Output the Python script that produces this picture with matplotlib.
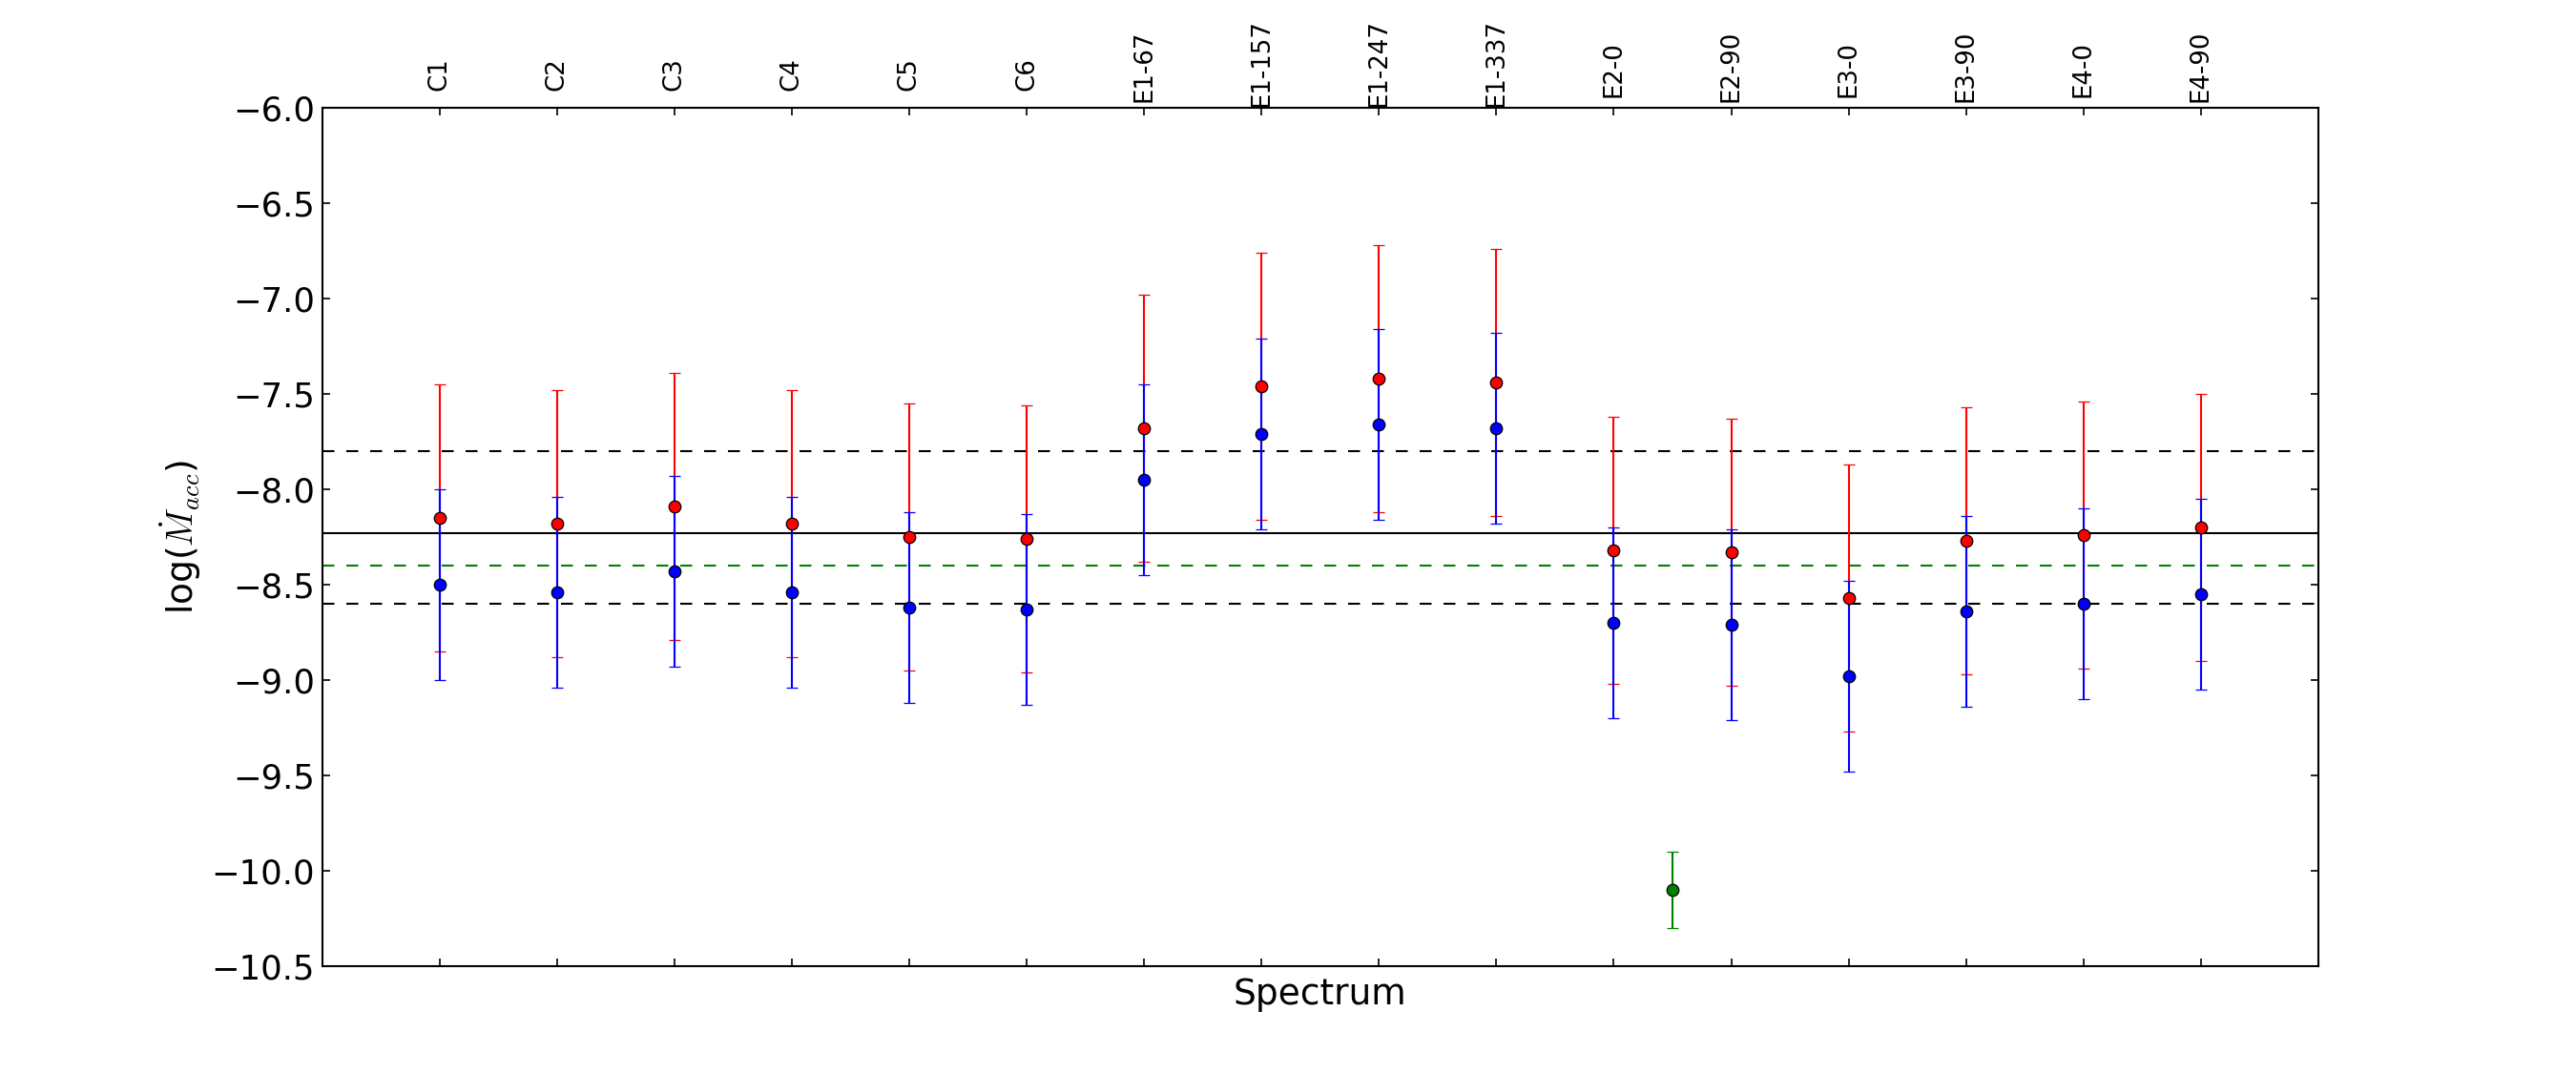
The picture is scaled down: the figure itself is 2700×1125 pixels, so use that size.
import matplotlib
matplotlib.use("Agg")
import matplotlib.pyplot as plt
import matplotlib.transforms as mtransforms
import numpy as np

plt.rcParams['font.family'] = ['DejaVu Sans']
plt.rcParams['mathtext.fontset'] = 'cm'

# spectra names (top axis)
spectra = ['C1', 'C2', 'C3', 'C4', 'C5', 'C6',
           'E1-67', 'E1-157', 'E1-247', 'E1-337',
           'E2-0', 'E2-90', 'E3-0', 'E3-90', 'E4-0', 'E4-90']

# log Macc, red estimates (+/- 0.7)
red_vals = [-8.15, -8.18, -8.09, -8.18, -8.25, -8.26,
            -7.68, -7.46, -7.42, -7.44,
            -8.32, -8.33, -8.57, -8.27, -8.24, -8.20]
red_err = 0.7

# log Macc, blue estimates (+/- 0.5)
blue_vals = [-8.50, -8.54, -8.43, -8.54, -8.62, -8.63,
             -7.95, -7.71, -7.66, -7.68,
             -8.70, -8.71, -8.98, -8.64, -8.60, -8.55]
blue_err = 0.5

# single green measurement between E2-0 and E2-90
green_x = [11.5]
green_val = [-10.1]
green_err = 0.2

# reference levels
mean_level = -8.23
upper_level = -7.80
lower_level = -8.60
green_level = -8.40

x = np.arange(1, len(spectra) + 1)

fig = plt.figure(figsize=(18, 7.5), dpi=150)
ax = fig.add_axes([0.125, 0.1, 0.775, 0.8])

ax.axhline(mean_level, color='k', lw=1.0)
ax.axhline(upper_level, color='k', lw=1.0, ls=(0, (6, 6)))
ax.axhline(lower_level, color='k', lw=1.0, ls=(0, (6, 6)))
ax.axhline(green_level, color='g', lw=1.0, ls=(0, (6, 6)))

ax.errorbar(x, red_vals, yerr=red_err, fmt='o', color='r', mec='k', mew=0.6,
            ms=6, capsize=3, elinewidth=1.0)
ax.errorbar(x, blue_vals, yerr=blue_err, fmt='o', color='b', mec='k', mew=0.6,
            ms=6, capsize=3, elinewidth=1.0)
ax.errorbar(green_x, green_val, yerr=green_err, fmt='o', color='g', mec='k',
            mew=0.6, ms=6, capsize=3, elinewidth=1.0)

ax.set_xlim(0, 17)
ax.set_ylim(-10.5, -6.0)
ax.set_yticks(np.arange(-10.5, -5.99, 0.5))
ax.set_xticks(x)
ax.tick_params(axis='both', direction='in', length=4, width=0.8,
               top=True, bottom=True, left=True, right=True,
               labelbottom=False, labeltop=False, labelsize=17)
for s in ax.spines.values():
    s.set_linewidth(1.0)

ax.set_xlabel('Spectrum', fontsize=18, labelpad=6)
ax.set_ylabel(r'log($\dot{M}_{acc}$)', fontsize=18)

# top labels, placed by hand (anchored ~30% along their length like the original)
base = mtransforms.blended_transform_factory(ax.transData, ax.transAxes)
labels = []
for xi, name in zip(x, spectra):
    t = ax.text(xi, 1.0, name, rotation=90, ha='center', va='bottom',
                fontsize=12.5, transform=base)
    labels.append(t)

fig.canvas.draw()
renderer = fig.canvas.get_renderer()
for t in labels:
    L = t.get_window_extent(renderer).height
    gap_px = 28 - 0.3 * L
    t.set_transform(mtransforms.offset_copy(base, fig, x=0, y=gap_px * 72 / fig.dpi,
                                            units='points'))

fig.savefig('out.png', dpi=150)
